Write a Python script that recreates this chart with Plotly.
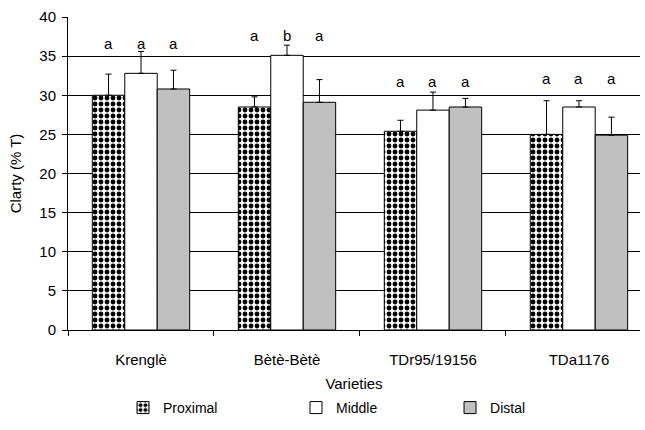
import plotly.graph_objects as go

categories = ["Krenglè", "Bètè-Bètè", "TDr95/19156", "TDa1176"]
series_names = ["Proximal", "Middle", "Distal"]
proximal = [30.0, 28.5, 25.4, 25.0]
middle = [32.8, 35.1, 28.1, 28.5]
distal = [30.8, 29.1, 28.5, 24.9]
proximal_err = [2.7, 1.3, 1.4, 4.3]
middle_err = [2.8, 1.3, 2.3, 0.8]
distal_err = [2.4, 2.9, 1.1, 2.3]
letters = [["a", "a", "a"], ["a", "b", "a"], ["a", "a", "a"], ["a", "a", "a"]]
letter_height = [36.6, 37.6, 31.7, 32.2]

values = [proximal, middle, distal]
errors = [proximal_err, middle_err, distal_err]

FONT = "Liberation Sans, Arial, sans-serif"
bargap = 0.333
xpos = list(range(len(categories)))
legend_x = [0.1907, 0.4589, 0.6977]

styles = [
    dict(color="white", pattern=dict(shape=".", fgcolor="black", bgcolor="white", size=6, solidity=0.52, fillmode="replace")),
    dict(color="white"),
    dict(color="#c0c0c0"),
]

fig = go.Figure()
for k, (name, vals, errs, st) in enumerate(zip(series_names, values, errors, styles)):
    marker = dict(color=st["color"], line=dict(color="black", width=1))
    if "pattern" in st:
        marker["pattern"] = st["pattern"]
    fig.add_trace(go.Bar(
        x=xpos, y=vals, name=name, marker=marker,
        legend="legend" if k == 0 else f"legend{k + 1}",
        error_y=dict(type="data", array=errs, arrayminus=[0] * len(errs), symmetric=False,
                     color="black", thickness=1, width=3),
    ))

bw = (1 - bargap) / len(series_names)
annotations = []
for i, labs in enumerate(letters):
    for j, lab in enumerate(labs):
        annotations.append(dict(
            x=i + (j - (len(labs) - 1) / 2) * bw, y=letter_height[i], text=lab,
            showarrow=False, font=dict(family=FONT, size=15, color="black"),
            xref="x", yref="y",
        ))

legend_common = dict(orientation="h", xref="container", yref="container", xanchor="left",
                     y=0.0512, yanchor="middle", font=dict(family=FONT, size=14),
                     itemwidth=30, bgcolor="rgba(0,0,0,0)")

fig.update_layout(
    width=645, height=430,
    margin=dict(l=68, r=5, t=17, b=100, autoexpand=False),
    paper_bgcolor="white", plot_bgcolor="white",
    barmode="group", bargap=bargap, bargroupgap=0,
    font=dict(family=FONT, size=15, color="black"),
    showlegend=True,
    legend=dict(x=legend_x[0], **legend_common),
    legend2=dict(x=legend_x[1], **legend_common),
    legend3=dict(x=legend_x[2], **legend_common),
    annotations=annotations,
)
fig.update_xaxes(
    automargin=False,
    range=[-0.5, 3.418], tickvals=xpos, ticktext=categories, ticks="",
    tickfont=dict(family=FONT, size=15),
    showline=True, linecolor="black", linewidth=1, showgrid=False, zeroline=False,
    ticklabelstandoff=16,
    minor=dict(tickvals=[-0.5, 0.5, 1.5, 2.5], ticks="outside", ticklen=5, tickcolor="black", showgrid=False),
    title=dict(text="Varieties", font=dict(family=FONT, size=15), standoff=13),
)
fig.update_yaxes(
    automargin=False,
    range=[0, 40], dtick=5, ticks="outside", ticklen=5, tickcolor="black",
    tickfont=dict(family=FONT, size=15), ticklabelstandoff=3,
    showline=True, linecolor="black", linewidth=1,
    showgrid=True, gridcolor="black", gridwidth=1, zeroline=False,
    title=dict(text="Clarty (% T)", font=dict(family=FONT, size=15), standoff=14),
)

fig.write_html("out.html", config={"displayModeBar": False},
               post_script="document.body.style.margin='0';")
